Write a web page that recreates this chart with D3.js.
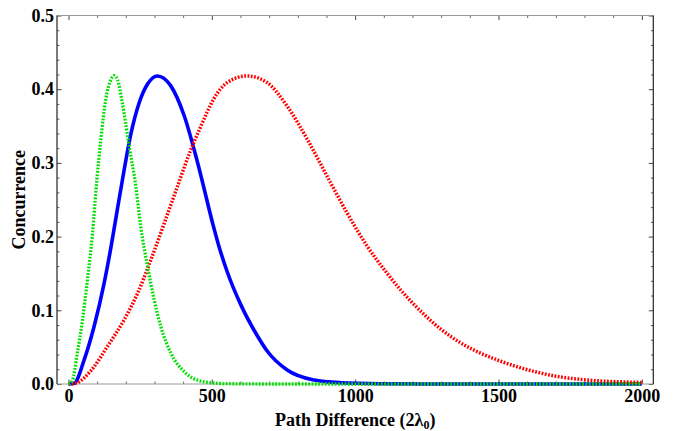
<!DOCTYPE html>
<html>
<head>
<meta charset="utf-8">
<script src="https://cdn.jsdelivr.net/npm/d3@7"></script>
<style>
  html, body { margin: 0; padding: 0; background: #fff; }
  svg { display: block; }
  text { font-family: "Liberation Serif", "Times New Roman", serif; font-weight: bold; fill: #000; }
</style>
</head>
<body>
<svg id="chart" width="675" height="431"></svg>
<script>
// ---- data ----
const greenX = [0, 14, 31, 49, 66, 84, 99, 113, 130, 148, 159, 171, 188, 212, 235, 252, 276, 299, 322, 357, 403, 473, 550, 700, 2000];
const greenY = [0, 0.005, 0.042, 0.087, 0.141, 0.205, 0.277, 0.332, 0.386, 0.413, 0.4185, 0.413, 0.381, 0.322, 0.268, 0.214, 0.159, 0.114, 0.078, 0.042, 0.017, 0.003, 0.0005, 0, 0];

const blueX = [0, 20, 55, 90, 125, 148, 171, 194, 217, 247, 276, 310, 357, 404, 450, 507, 524, 554, 603, 649, 693, 763, 856, 949, 1088, 1250, 2000];
const blueY = [0, 0.001, 0.033, 0.079, 0.138, 0.185, 0.238, 0.290, 0.338, 0.382, 0.407, 0.418, 0.4045, 0.3636, 0.301, 0.212, 0.188, 0.152, 0.106, 0.0719, 0.0448, 0.019, 0.0054, 0.0018, 0.0004, 0, 0];

const redX = [0, 31, 78, 136, 194, 241, 287, 334, 380, 427, 460, 485, 507, 554, 623, 693, 763, 833, 902, 972, 1042, 1112, 1158, 1228, 1297, 1367, 1437, 1507, 1577, 1646, 1716, 1786, 1856, 1925, 2000];
const redY = [0, 0.002, 0.018, 0.051, 0.087, 0.123, 0.168, 0.218, 0.268, 0.318, 0.348, 0.370, 0.387, 0.409, 0.418, 0.409, 0.377, 0.332, 0.282, 0.232, 0.187, 0.150, 0.128, 0.099, 0.075, 0.056, 0.042, 0.031, 0.022, 0.015, 0.0095, 0.0063, 0.004, 0.003, 0.002];

const xMajorTicks = [0, 500, 1000, 1500, 2000];
const xMinorTicks = [100, 200, 300, 400, 600, 700, 800, 900, 1100, 1200, 1300, 1400, 1600, 1700, 1800, 1900];
const yMajorTicks = [0, 0.1, 0.2, 0.3, 0.4, 0.5];
const yMinorTicks = [0.02, 0.04, 0.06, 0.08, 0.12, 0.14, 0.16, 0.18, 0.22, 0.24, 0.26, 0.28, 0.32, 0.34, 0.36, 0.38, 0.42, 0.44, 0.46, 0.48];

const xLabel = "Path Difference (2λ";
const xLabelSub = "0";
const yLabel = "Concurrence";

// ---- layout ----
const L = 57, R = 653.3, T = 15.5, B = 384;
const svg = d3.select("#chart");

const x = d3.scaleLinear().domain([-40, 2040]).range([L, R]);
const y = d3.scaleLinear().domain([0, 0.5]).range([B, T]);

// ---- curves ----
const line = d3.line().x(d => x(d[0])).y(d => y(d[1])).curve(d3.curveMonotoneX);
const series = [
  { xs: blueX, ys: blueY, color: "#0000ff", width: 3.6, dash: null },
  { xs: redX, ys: redY, color: "#ff0000", width: 3.5, dash: "1.8,1.5" },
  { xs: greenX, ys: greenY, color: "#00e000", width: 3.3, dash: "1.8,1.5" }
];

// ---- frame & ticks ----
function styleAxis(g, color) {
  g.select(".domain").remove();
  g.selectAll(".tick line").attr("stroke", color).attr("stroke-width", 1);
}

// bottom
const gB = svg.append("g").attr("transform", `translate(0,${B})`);
gB.call(d3.axisBottom(x).tickValues(xMajorTicks).tickSize(-4.5).tickPadding(5).tickFormat(d3.format("d")));
styleAxis(gB, "#444");
gB.selectAll(".tick text").attr("font-size", 18).attr("font-family", "Liberation Serif").attr("font-weight", "bold").attr("fill", "#000");
const gBm = svg.append("g").attr("transform", `translate(0,${B})`);
gBm.call(d3.axisBottom(x).tickValues(xMinorTicks).tickSize(-2.5).tickFormat(""));
styleAxis(gBm, "#666");

// top
const gT = svg.append("g").attr("transform", `translate(0,${T})`);
gT.call(d3.axisTop(x).tickValues(xMajorTicks).tickSize(-4.5).tickFormat(""));
styleAxis(gT, "#444");
const gTm = svg.append("g").attr("transform", `translate(0,${T})`);
gTm.call(d3.axisTop(x).tickValues(xMinorTicks).tickSize(-2.5).tickFormat(""));
styleAxis(gTm, "#666");

// left
const gL = svg.append("g").attr("transform", `translate(${L},0)`);
gL.call(d3.axisLeft(y).tickValues(yMajorTicks).tickSize(-4.5).tickPadding(3).tickFormat(d3.format(".1f")));
styleAxis(gL, "#444");
gL.selectAll(".tick text").attr("font-size", 18).attr("font-family", "Liberation Serif").attr("font-weight", "bold").attr("fill", "#000");
const gLm = svg.append("g").attr("transform", `translate(${L},0)`);
gLm.call(d3.axisLeft(y).tickValues(yMinorTicks).tickSize(-2.5).tickFormat(""));
styleAxis(gLm, "#666");

// right
const gR = svg.append("g").attr("transform", `translate(${R},0)`);
gR.call(d3.axisRight(y).tickValues(yMajorTicks).tickSize(-4.5).tickFormat(""));
styleAxis(gR, "#444");
const gRm = svg.append("g").attr("transform", `translate(${R},0)`);
gRm.call(d3.axisRight(y).tickValues(yMinorTicks).tickSize(-2.5).tickFormat(""));
styleAxis(gRm, "#666");

// frame lines
svg.append("line").attr("x1", L).attr("x2", R).attr("y1", T).attr("y2", T).attr("stroke", "#999").attr("stroke-width", 1.2);
svg.append("line").attr("x1", L).attr("x2", R).attr("y1", B).attr("y2", B).attr("stroke", "#999").attr("stroke-width", 1.2);
svg.append("line").attr("x1", L).attr("x2", L).attr("y1", T).attr("y2", B).attr("stroke", "#222").attr("stroke-width", 1.2);
svg.append("line").attr("x1", R).attr("x2", R).attr("y1", T).attr("y2", B).attr("stroke", "#222").attr("stroke-width", 1.2);

// curves drawn on top
series.forEach(s => {
  const pts = s.xs.map((v, i) => [v, s.ys[i]]);
  const p = svg.append("path")
    .attr("d", line(pts))
    .attr("fill", "none")
    .attr("stroke", s.color)
    .attr("stroke-width", s.width)
    .attr("stroke-linejoin", "round");
  if (s.dash) p.attr("stroke-dasharray", s.dash);
});

// ---- axis labels ----
const xl = svg.append("text")
  .attr("x", (L + R) / 2)
  .attr("y", 426)
  .attr("text-anchor", "middle")
  .attr("font-size", 18);
xl.append("tspan").text(xLabel);
xl.append("tspan").attr("font-size", 12).attr("dy", 3).text(xLabelSub);
xl.append("tspan").attr("dy", -3).text(")");

svg.append("text")
  .attr("transform", `translate(25,${(T + B) / 2}) rotate(-90)`)
  .attr("text-anchor", "middle")
  .attr("font-size", 18)
  .text(yLabel);
</script>
</body>
</html>
